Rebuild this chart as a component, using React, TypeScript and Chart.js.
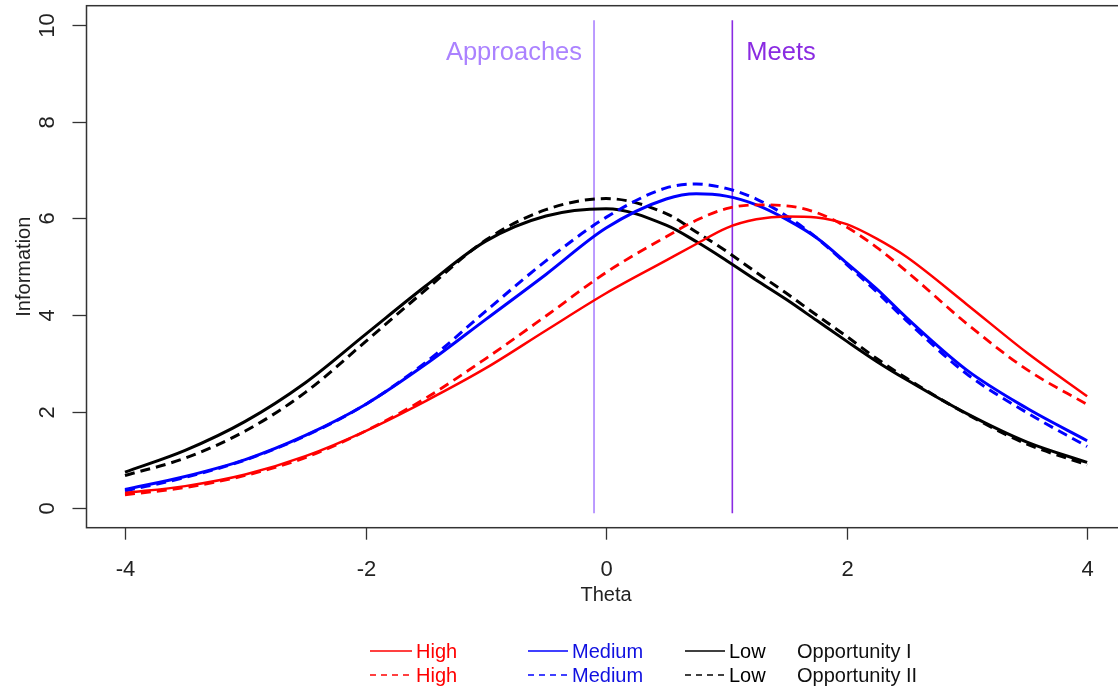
import React, { useEffect, useRef } from "react";
import { Chart, registerables } from "chart.js";

Chart.register(...registerables);

// ---- data ----
const THETA = [-4, -3.5, -3, -2.5, -2, -1.5, -1, -0.5, 0, 0.5, 0.75, 1, 1.25, 1.5, 1.75, 2, 2.25, 2.5, 3, 3.5, 4];
const HIGH_I = [0.32, 0.46, 0.7, 1.08, 1.6, 2.22, 2.9, 3.68, 4.45, 5.13, 5.47, 5.8, 5.98, 6.04, 6.02, 5.88, 5.58, 5.2, 4.22, 3.22, 2.32];
const HIGH_II = [0.28, 0.43, 0.68, 1.05, 1.6, 2.28, 3.1, 3.98, 4.88, 5.62, 5.96, 6.2, 6.28, 6.26, 6.12, 5.82, 5.4, 4.9, 3.82, 2.87, 2.15];
const MEDIUM_I = [0.39, 0.66, 1.01, 1.51, 2.15, 2.98, 3.91, 4.84, 5.8, 6.4, 6.51, 6.46, 6.28, 5.98, 5.6, 5.08, 4.54, 3.94, 2.86, 2.07, 1.4];
const MEDIUM_II = [0.36, 0.64, 1.0, 1.5, 2.15, 3.02, 4.08, 5.12, 6.02, 6.63, 6.71, 6.62, 6.4, 6.05, 5.6, 5.05, 4.48, 3.88, 2.78, 1.98, 1.28];
const LOW_I = [0.75, 1.2, 1.8, 2.6, 3.6, 4.6, 5.53, 6.05, 6.2, 5.86, 5.52, 5.13, 4.72, 4.32, 3.89, 3.46, 3.04, 2.66, 1.96, 1.37, 0.95];
const LOW_II = [0.68, 1.04, 1.6, 2.4, 3.45, 4.52, 5.55, 6.18, 6.41, 6.1, 5.72, 5.32, 4.88, 4.45, 4.0, 3.56, 3.1, 2.69, 1.95, 1.33, 0.9];

const CUT_NAMES = ["Approaches", "Meets"];
const CUT_THETA = [-0.1, 1.05];
const CUT_RANGE = [-0.1, 10.1];
const CUT_LABEL_Y = 9.43;

const X_TICKS = [-4, -2, 0, 2, 4];
const Y_TICKS = [0, 2, 4, 6, 8, 10];
const X_TITLE = "Theta";
const Y_TITLE = "Information";

const GROUP_NAMES = ["High", "Medium", "Low"];
const OPPORTUNITY_NAMES = ["Opportunity I", "Opportunity II"];

// ---- styles ----
const COLORS = ["#ff0000", "#0000ff", "#000000"];
const CUT_COLORS = ["#ab82ff", "#8a2be2"];
const DASH = [10, 6];
const FONT = "'Liberation Sans', Arial, Helvetica, sans-serif";

const pts = (ys: number[]) => THETA.map((x, i) => ({ x, y: ys[i] }));

const curve = (label: string, ys: number[], color: string, dashed: boolean, width: number) => ({
  label,
  data: pts(ys),
  showLine: true,
  borderColor: color,
  backgroundColor: color,
  borderWidth: width,
  borderDash: dashed ? DASH : [],
  pointRadius: 0,
  cubicInterpolationMode: "monotone",
  fill: false,
});

const decor = {
  id: "rdecor",
  afterDraw(chart: any) {
    const ctx: CanvasRenderingContext2D = chart.ctx;
    const xs = chart.scales.x;
    const ys = chart.scales.y;
    const { left, top, right, bottom } = chart.chartArea;
    ctx.save();

    // box
    ctx.strokeStyle = "#333333";
    ctx.lineWidth = 1.5;
    ctx.setLineDash([]);
    ctx.strokeRect(left, top, right - left, bottom - top);

    // x ticks
    ctx.fillStyle = "#222";
    ctx.font = `22px ${FONT}`;
    ctx.textAlign = "center";
    ctx.textBaseline = "alphabetic";
    ctx.lineWidth = 1.3;
    X_TICKS.forEach((v) => {
      const px = Math.round(xs.getPixelForValue(v)) + 0.5;
      ctx.beginPath();
      ctx.moveTo(px, bottom);
      ctx.lineTo(px, bottom + 12);
      ctx.stroke();
      ctx.fillText(String(v), px, 576);
    });

    // y ticks
    Y_TICKS.forEach((v) => {
      const py = Math.round(ys.getPixelForValue(v)) + 0.5;
      ctx.beginPath();
      ctx.moveTo(left - 14, py);
      ctx.lineTo(left, py);
      ctx.stroke();
      ctx.save();
      ctx.translate(54, py);
      ctx.rotate(-Math.PI / 2);
      ctx.fillText(String(v), 0, 0);
      ctx.restore();
    });

    // axis titles
    ctx.font = `20px ${FONT}`;
    ctx.fillText(X_TITLE, (left + right) / 2, 601);
    ctx.save();
    ctx.translate(30, (top + bottom) / 2);
    ctx.rotate(-Math.PI / 2);
    ctx.fillText(Y_TITLE, 0, 0);
    ctx.restore();

    // cut labels
    ctx.font = `25.5px ${FONT}`;
    CUT_NAMES.forEach((name, i) => {
      const px = xs.getPixelForValue(CUT_THETA[i]);
      const py = ys.getPixelForValue(CUT_LABEL_Y);
      ctx.fillStyle = CUT_COLORS[i];
      ctx.textAlign = i === 0 ? "right" : "left";
      ctx.textBaseline = "middle";
      ctx.fillText(name, i === 0 ? px - 12 : px + 14, py);
    });

    // legend
    const cols = [
      { x0: 370, x1: 412, tx: 416 },
      { x0: 528, x1: 568, tx: 572 },
      { x0: 685, x1: 725, tx: 729 },
    ];
    const rows = [651, 675];
    ctx.font = `20px ${FONT}`;
    ctx.textAlign = "left";
    ctx.textBaseline = "alphabetic";
    rows.forEach((ry, r) => {
      GROUP_NAMES.forEach((g, c) => {
        const col = cols[c];
        ctx.strokeStyle = COLORS[c];
        ctx.globalAlpha = 0.75;
        ctx.lineWidth = 1.8;
        ctx.setLineDash(r === 0 ? [] : [6, 5]);
        ctx.beginPath();
        ctx.moveTo(col.x0, ry);
        ctx.lineTo(col.x1, ry);
        ctx.stroke();
        ctx.globalAlpha = 1;
        ctx.setLineDash([]);
        ctx.fillStyle = COLORS[c] === "#0000ff" ? "#1010e0" : COLORS[c];
        ctx.fillText(g, col.tx, ry + 7);
      });
      ctx.fillStyle = "#111";
      ctx.fillText(OPPORTUNITY_NAMES[r], 797, ry + 7);
    });

    ctx.restore();
  },
};

export default function App() {
  const ref = useRef<HTMLCanvasElement>(null);
  useEffect(() => {
    const canvas = ref.current;
    if (!canvas) return;
    const datasets: any[] = [
      curve("High I", HIGH_I, COLORS[0], false, 2.5),
      curve("High II", HIGH_II, COLORS[0], true, 2.8),
      curve("Medium I", MEDIUM_I, COLORS[1], false, 3),
      curve("Medium II", MEDIUM_II, COLORS[1], true, 3),
      curve("Low I", LOW_I, COLORS[2], false, 3),
      curve("Low II", LOW_II, COLORS[2], true, 3),
      ...CUT_NAMES.map((name, i) => ({
        label: name,
        data: CUT_RANGE.map((y) => ({ x: CUT_THETA[i], y })),
        showLine: true,
        borderColor: CUT_COLORS[i],
        borderWidth: 1.6,
        pointRadius: 0,
        fill: false,
      })),
    ];
    const chart = new Chart(canvas, {
      type: "scatter",
      data: { datasets },
      options: {
        responsive: false,
        animation: false,
        devicePixelRatio: 1,
        layout: { padding: { left: 86.5, top: 5.7, right: 4.4, bottom: 165.3 } },
        scales: {
          x: { type: "linear", min: -4.32, max: 4.32, display: false },
          y: { type: "linear", min: -0.4, max: 10.4, display: false },
        },
        plugins: { legend: { display: false }, tooltip: { enabled: false } },
      },
      plugins: [decor],
    } as any);
    return () => chart.destroy();
  }, []);
  return (
    <div
      style={{
        position: "absolute",
        left: 0,
        top: 0,
        width: 1118,
        height: 693,
        overflow: "hidden",
        background: "#ffffff",
      }}
    >
      <canvas ref={ref} width={1130} height={693} style={{ display: "block", width: 1130, height: 693 }} />
    </div>
  );
}
